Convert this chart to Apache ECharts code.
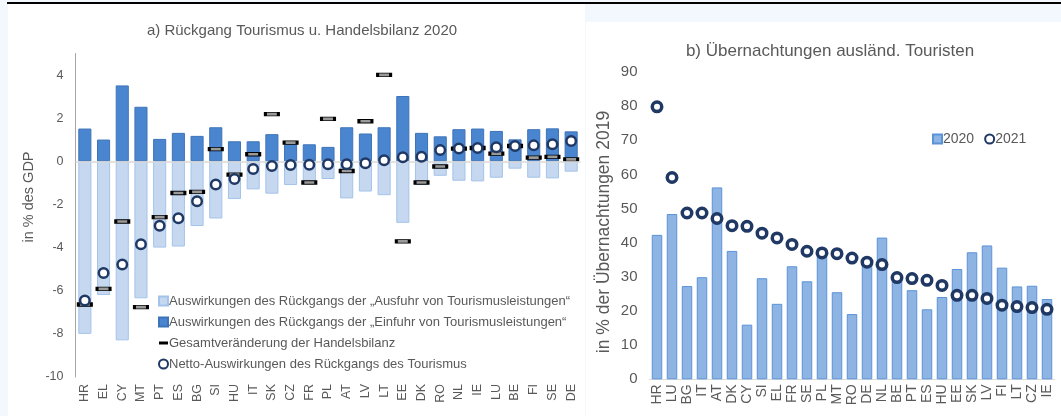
<!DOCTYPE html>
<html><head><meta charset="utf-8">
<script src="https://cdn.jsdelivr.net/npm/echarts@6/dist/echarts.min.js"></script>
<style>html,body{margin:0;padding:0;background:#F2F8FE}#c{width:1061px;height:416px}</style>
</head><body><div id="c"></div>
<script>
// Panel a)
const countriesA = ['HR','EL','CY','MT','PT','ES','BG','SI','HU','IT','SK','CZ','FR','PL','AT','LV','LT','EE','DK','RO','NL','IE','LU','BE','FI','SE','DE'];
const exportImpact = [-8.0,-6.2,-8.3,-6.35,-4.0,-3.95,-3.0,-2.65,-1.75,-1.3,-1.5,-1.1,-0.95,-0.82,-1.72,-1.4,-1.57,-2.85,-1.1,-0.67,-0.9,-0.93,-0.76,-0.34,-0.76,-0.79,-0.48];
const importImpact = [1.52,1.01,3.52,2.53,1.04,1.32,1.18,1.58,0.93,0.93,1.26,0.9,0.79,0.67,1.58,1.29,1.58,3.03,1.32,1.16,1.49,1.52,1.41,1.02,1.49,1.53,1.39];
const tradeBalance = [-6.64,-5.91,-2.79,-6.76,-2.59,-1.47,-1.42,0.57,-0.62,0.33,2.19,0.87,-0.98,1.97,-0.45,1.86,4.01,-3.71,-0.98,-0.24,0.59,0.62,0.36,0.71,0.17,0.21,0.09];
const netImpact = [-6.45,-5.18,-4.78,-3.85,-2.99,-2.64,-1.85,-1.07,-0.82,-0.36,-0.22,-0.17,-0.16,-0.14,-0.14,-0.09,0.05,0.19,0.21,0.52,0.60,0.62,0.65,0.71,0.74,0.79,0.94];
const namesA = ['Auswirkungen des Rückgangs der „Ausfuhr von Tourismusleistungen“','Auswirkungen des Rückgangs der „Einfuhr von Tourismusleistungen“','Gesamtveränderung der Handelsbilanz','Netto-Auswirkungen des Rückgangs des Tourismus'];
// Panel b)
const countriesB = ['HR','LU','BG','IT','AT','DK','CY','SI','EL','FR','SE','PL','MT','RO','DE','NL','BE','PT','ES','HU','EE','SK','LV','FI','LT','CZ','IE'];
const nights2020 = [42.3,48.4,27.3,29.9,56.2,37.6,16.0,29.6,22.1,33.1,28.7,36.3,25.5,19.1,34.2,41.5,29.2,26.1,20.5,24.1,32.3,37.2,39.2,32.7,27.2,27.4,23.5];
const nights2021 = [79.8,59.1,48.7,48.7,47.1,45.0,44.8,42.8,41.4,39.5,37.5,37.0,36.8,35.5,34.3,33.6,29.8,29.5,29.0,27.5,24.6,24.6,23.7,21.7,21.3,21.0,20.5];

const FONT = '"Liberation Sans", Arial, sans-serif';
const TXT = '#595959';
const NAVY = '#1F3864';

const chart = echarts.init(document.getElementById('c'), null, {renderer: 'canvas'});
chart.setOption({
  backgroundColor: '#F2F8FE',
  animation: false,
  textStyle: {fontFamily: FONT, color: TXT},
  graphic: [
    {type: 'rect', z: -10, silent: true, shape: {x: 8, y: 4, width: 577, height: 412}, style: {fill: '#FFFFFF'}},
    {type: 'rect', z: -10, silent: true, shape: {x: 586, y: 22, width: 475, height: 394}, style: {fill: '#FFFFFF'}},
    {type: 'rect', z: 10, silent: true, shape: {x: 7, y: 2, width: 1054, height: 2}, style: {fill: '#000000'}},
    {type: 'text', silent: true, x: 29, y: 197, rotation: Math.PI / 2,
      style: {text: 'in % des GDP', fill: TXT, font: '14.5px ' + FONT, textAlign: 'center', textVerticalAlign: 'middle'}},
    {type: 'text', silent: true, x: 604, y: 232, rotation: Math.PI / 2,
      style: {text: 'in % der Übernachtungen 2019', fill: TXT, font: '17.5px ' + FONT, textAlign: 'center', textVerticalAlign: 'middle'}}
  ],
  title: [
    {text: 'a) Rückgang Tourismus u. Handelsbilanz 2020', left: 297, top: 18, textAlign: 'center',
      textStyle: {fontFamily: FONT, fontSize: 15, fontWeight: 'normal', color: TXT}},
    {text: 'b) Übernachtungen ausländ. Touristen', left: 825, top: 38, textAlign: 'center',
      textStyle: {fontFamily: FONT, fontSize: 17, fontWeight: 'normal', color: TXT}}
  ],
  legend: [
    {orient: 'vertical', left: 153, top: 289, itemGap: 7, itemWidth: 9, itemHeight: 9,
      textStyle: {fontFamily: FONT, fontSize: 13, color: TXT, lineHeight: 14, padding: [0, 0, 0, -4]},
      data: [
        {name: namesA[0], icon: 'rect'},
        {name: namesA[1], icon: 'rect'},
        {name: namesA[2], icon: 'path://M0,0H12V4H0Z', itemStyle: {color: '#000', borderWidth: 0}},
        {name: namesA[3], icon: 'circle'}
      ]},
    {orient: 'horizontal', left: 927, top: 127, itemGap: 10, itemWidth: 9, itemHeight: 9,
      textStyle: {fontFamily: FONT, fontSize: 14, color: TXT, padding: [0, 0, 0, -4]},
      data: [{name: '2020', icon: 'rect'}, {name: '2021', icon: 'circle'}]}
  ],
  grid: [
    {left: 75.5, top: 53.5, width: 505, height: 323.5},
    {left: 649.5, top: 72, width: 405, height: 307.3}
  ],
  xAxis: [
    {type: 'category', gridIndex: 0, data: countriesA,
      axisLine: {show: false, onZero: false}, axisTick: {show: false},
      axisLabel: {rotate: 90, margin: 7, fontSize: 12.5, color: TXT, fontFamily: FONT, interval: 0}},
    {type: 'category', gridIndex: 1, data: countriesB,
      axisLine: {show: true, lineStyle: {color: '#D9D9D9', width: 1}}, axisTick: {show: false},
      axisLabel: {rotate: 90, margin: 5, fontSize: 14, color: TXT, fontFamily: FONT, interval: 0}}
  ],
  yAxis: [
    {type: 'value', gridIndex: 0, min: -10, max: 5, interval: 2,
      axisLine: {show: true, lineStyle: {color: '#A6A6A6', width: 1}}, axisTick: {show: false},
      splitLine: {show: false},
      axisLabel: {showMaxLabel: false, fontSize: 12.5, color: TXT, fontFamily: FONT, margin: 12}},
    {type: 'value', gridIndex: 1, min: 0, max: 90, interval: 10,
      axisLine: {show: false}, axisTick: {show: false}, splitLine: {show: false},
      axisLabel: {fontSize: 15, color: TXT, fontFamily: FONT, margin: 12}}
  ],
  series: [
    {name: namesA[0], type: 'bar', xAxisIndex: 0, yAxisIndex: 0, data: exportImpact,
      barWidth: '70%', barGap: '-100%',
      itemStyle: {color: '#C5D8F0', borderColor: '#A3C3EA', borderWidth: 1},
      markLine: {silent: true, symbol: 'none', label: {show: false},
        lineStyle: {color: '#D9D9D9', type: 'solid', width: 1.5}, data: [{yAxis: 0}]}},
    {name: namesA[1], type: 'bar', xAxisIndex: 0, yAxisIndex: 0, data: importImpact,
      barWidth: '70%', barGap: '-100%',
      itemStyle: {color: '#4A86D0', borderColor: '#3D73B8', borderWidth: 1}},
    {name: namesA[2], type: 'scatter', xAxisIndex: 0, yAxisIndex: 0, data: tradeBalance,
      symbol: 'rect', symbolSize: [13, 3.5], z: 4,
      itemStyle: {color: '#9A9A9A', borderColor: '#000000', borderWidth: 1.6, opacity: 1}},
    {name: namesA[3], type: 'scatter', xAxisIndex: 0, yAxisIndex: 0, data: netImpact,
      symbol: 'circle', symbolSize: 9.5, z: 5,
      itemStyle: {color: '#FFFFFF', borderColor: NAVY, borderWidth: 2.5, opacity: 1}},
    {name: '2020', type: 'bar', xAxisIndex: 1, yAxisIndex: 1, data: nights2020,
      barWidth: '70%',
      itemStyle: {color: '#8DB4E2', borderColor: '#5B93D8', borderWidth: 1}},
    {name: '2021', type: 'scatter', xAxisIndex: 1, yAxisIndex: 1, data: nights2021,
      symbol: 'circle', symbolSize: 9.5, z: 5,
      itemStyle: {color: '#FFFFFF', borderColor: NAVY, borderWidth: 3.5, opacity: 1}}
  ]
});
</script></body></html>
